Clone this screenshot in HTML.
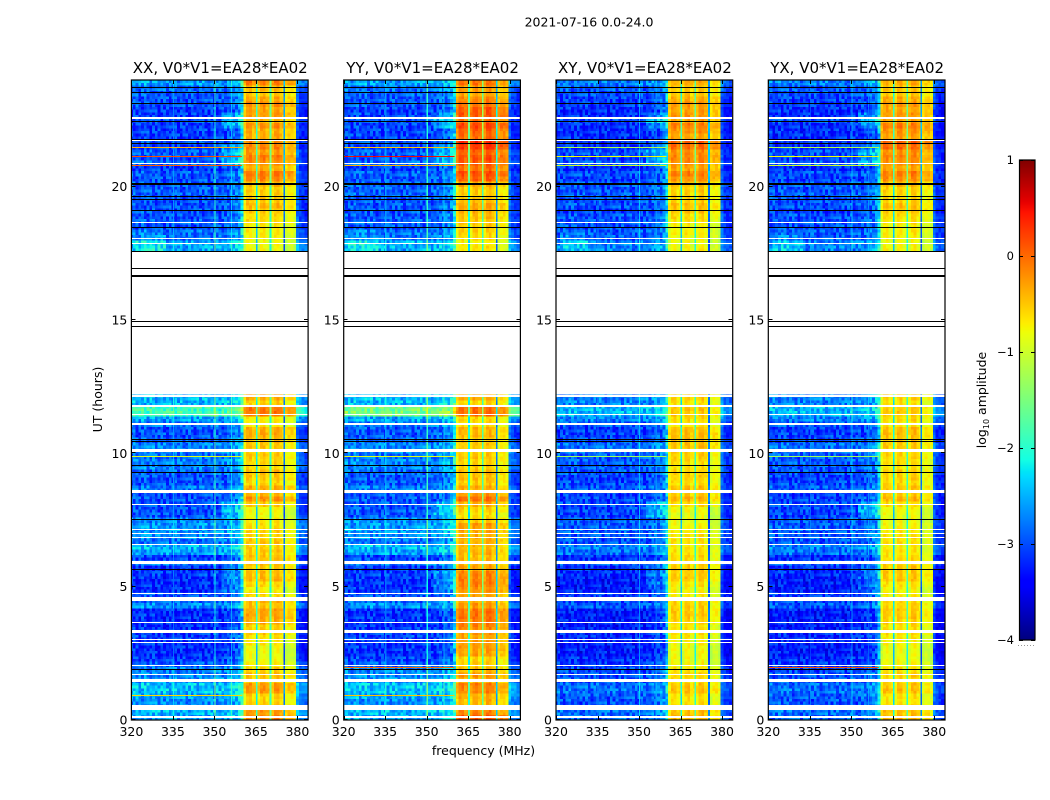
<!DOCTYPE html>
<html lang="en">
<head>
<meta charset="utf-8">
<title>2021-07-16 0.0-24.0</title>
<style>
html,body{margin:0;padding:0;background:#fff;}
svg{display:block;font-family:"DejaVu Sans","Liberation Sans",sans-serif;fill:#000;}
</style>
</head>
<body>
<svg id="figure" xmlns="http://www.w3.org/2000/svg" width="1050" height="800" viewBox="0 0 1050 800">
<text x="589" y="26.5" text-anchor="middle" font-size="12.5">2021-07-16 0.0-24.0</text>
<text x="483.5" y="755" text-anchor="middle" font-size="12.5">frequency (MHz)</text>
<text transform="translate(102,399.5) rotate(-90)" text-anchor="middle" font-size="12.5">UT (hours)</text>
<text transform="translate(986,400) rotate(-90)" text-anchor="middle" font-size="12.5">log<tspan font-size="8" dy="3">10</tspan><tspan dy="-3"> amplitude</tspan></text>
</svg>
<script>
const panelTitles = ["XX, V0*V1=EA28*EA02","YY, V0*V1=EA28*EA02","XY, V0*V1=EA28*EA02","YX, V0*V1=EA28*EA02"];
const xTickLabels = [320,335,350,365,380];
const yTickLabels = [0,5,10,15,20];
const colorbarTickLabels = [1,0,-1,-2,-3,-4];

// Log10 amplitude per 0.2 h row (row 0 = 0.0 h). null = no data.
const bgCo = [-2.6,-2.5,-2.7,-2.7,-2.6,-2.45,-2.45,-2.65,-2.75,-2.75,-2.95,-3.1,-3.2,-3.2,-3.2,-3.1,-3.1,-3.2,-3.2,-3.2,-3.2,-2.7,-2.9,-3.0,-3.2,-3.2,-3.2,-3.1,-3.2,-2.8,-3.1,-2.6,-2.5,-2.85,-2.7,-2.65,-2.65,-2.7,-3.0,-3.0,-3.0,-3.0,-3.0,-2.8,-3.0,-3.0,-2.9,-2.75,-2.75,-2.85,-2.75,-2.75,-2.9,-3.0,-3.0,-2.8,-2.6,-1.85,-1.9,-2.5,-2.5,
null,null,null,null,null,null,null,null,null,null,null,null,null,null,null,null,null,null,null,null,null,null,null,null,null,null,null,
-2.55,-2.55,-2.85,-2.85,-3.0,-2.95,-3.0,-3.0,-3.0,-3.0,-2.95,-2.95,-2.95,-3.0,-2.95,-3.1,-2.9,-3.0,-2.95,-3.1,-3.0,-3.1,-3.1,-3.1,-3.0,-3.1,-3.1,-3.0,-3.0,-2.95,-2.85,-2.6];
const bgCross = [-2.9,-2.85,-3.0,-3.0,-2.95,-2.85,-2.85,-3.0,-3.0,-3.05,-3.15,-3.2,-3.3,-3.3,-3.3,-3.2,-3.2,-3.3,-3.3,-3.3,-3.3,-2.95,-3.05,-3.1,-3.3,-3.3,-3.3,-3.2,-3.2,-2.95,-3.2,-2.85,-2.75,-3.0,-2.95,-2.95,-2.95,-2.95,-3.1,-3.05,-3.05,-3.05,-3.1,-2.95,-3.05,-3.1,-3.0,-2.95,-2.95,-2.95,-2.85,-2.85,-3.0,-3.1,-3.1,-2.95,-2.75,-2.5,-2.5,-2.75,-2.75,
null,null,null,null,null,null,null,null,null,null,null,null,null,null,null,null,null,null,null,null,null,null,null,null,null,null,null,
-2.75,-2.75,-2.95,-2.95,-3.0,-3.0,-3.0,-3.1,-3.0,-3.0,-2.95,-3.0,-2.95,-3.1,-3.0,-3.2,-2.95,-3.1,-3.0,-3.2,-3.1,-3.2,-3.2,-3.2,-3.0,-3.2,-3.2,-3.1,-3.1,-3.0,-2.95,-2.75];
const bgBoostYY = {57:0.3,58:0.3};
const bgOffsets = [0,0.03,0,0];

const bandXX = [-0.2,-0.3,-0.5,-0.6,-0.6,-0.3,-0.3,-0.55,-0.5,-0.6,-0.75,-0.85,-0.85,-0.85,-0.75,-0.7,-0.55,-0.6,-0.4,-0.35,-0.35,-0.5,-0.45,-0.65,-0.8,-0.65,-0.45,-0.5,-0.55,-0.5,-0.5,-0.55,-0.6,-0.55,-0.65,-0.6,-0.7,-0.75,-0.85,-0.8,-0.55,-0.25,-0.45,-0.4,-0.65,-0.55,-0.5,-0.65,-0.6,-0.55,-0.6,-0.55,-0.5,-0.4,-0.4,-0.75,-0.75,-0.1,-0.1,-0.6,-0.4,
null,null,null,null,null,null,null,null,null,null,null,null,null,null,null,null,null,null,null,null,null,null,null,null,null,null,null,
-0.85,-0.85,-0.8,-0.75,-0.75,-0.65,-0.65,-0.55,-0.45,-0.55,-0.6,-0.6,-0.5,-0.2,-0.1,-0.4,-0.25,-0.15,-0.3,-0.2,-0.25,-0.4,-0.4,-0.25,-0.45,-0.3,-0.35,-0.25,-0.4,-0.55,-0.5,-0.15];
const bandYY = [0.05,-0.2,-0.45,-0.45,-0.4,-0.2,-0.15,-0.4,-0.3,-0.5,-0.6,-0.6,-0.35,-0.3,-0.3,-0.35,-0.3,-0.2,-0.15,-0.1,-0.1,-0.3,-0.4,-0.35,-0.25,-0.15,-0.15,-0.2,-0.37,-0.42,-0.47,-0.42,-0.47,-0.42,-0.42,-0.37,-0.32,-0.57,-0.7,-0.6,-0.4,-0.05,-0.3,-0.4,-0.55,-0.5,-0.5,-0.6,-0.6,-0.55,-0.55,-0.55,-0.55,-0.45,-0.45,-0.65,-0.65,-0.05,-0.05,-0.6,-0.4,
null,null,null,null,null,null,null,null,null,null,null,null,null,null,null,null,null,null,null,null,null,null,null,null,null,null,null,
-0.7,-0.75,-0.65,-0.6,-0.6,-0.55,-0.5,-0.4,-0.35,-0.5,-0.55,-0.55,-0.4,0.0,0.1,-0.1,0.05,0.1,0.0,0.25,0.3,-0.05,0.0,0.15,-0.1,0.05,0.05,-0.1,-0.2,-0.35,-0.3,-0.1];
const bandXY = [-0.45,-0.5,-0.6,-0.7,-0.7,-0.5,-0.55,-0.65,-0.6,-0.7,-0.8,-0.85,-0.85,-0.85,-0.8,-0.75,-0.65,-0.7,-0.6,-0.55,-0.55,-0.6,-0.6,-0.75,-0.8,-0.7,-0.55,-0.55,-0.55,-0.6,-0.65,-0.7,-0.75,-0.7,-0.7,-0.75,-0.8,-0.85,-0.9,-0.85,-0.65,-0.45,-0.55,-0.5,-0.65,-0.6,-0.6,-0.7,-0.65,-0.6,-0.6,-0.5,-0.5,-0.45,-0.5,-0.7,-0.65,-0.55,-0.55,-0.7,-0.6,
null,null,null,null,null,null,null,null,null,null,null,null,null,null,null,null,null,null,null,null,null,null,null,null,null,null,null,
-0.8,-0.85,-0.8,-0.75,-0.8,-0.7,-0.65,-0.55,-0.5,-0.6,-0.6,-0.6,-0.5,-0.25,-0.15,-0.35,-0.25,-0.2,-0.25,-0.05,0.0,-0.35,-0.25,-0.15,-0.35,-0.3,-0.35,-0.3,-0.4,-0.55,-0.55,-0.4];
const bandYX = [-0.45,-0.5,-0.6,-0.7,-0.7,-0.5,-0.55,-0.65,-0.6,-0.7,-0.8,-0.85,-0.85,-0.85,-0.8,-0.75,-0.65,-0.7,-0.6,-0.55,-0.55,-0.6,-0.65,-0.75,-0.8,-0.7,-0.55,-0.55,-0.55,-0.6,-0.65,-0.7,-0.75,-0.7,-0.7,-0.75,-0.8,-0.85,-0.85,-0.8,-0.65,-0.45,-0.55,-0.55,-0.65,-0.6,-0.6,-0.7,-0.65,-0.6,-0.6,-0.55,-0.55,-0.5,-0.5,-0.7,-0.65,-0.55,-0.55,-0.7,-0.6,
null,null,null,null,null,null,null,null,null,null,null,null,null,null,null,null,null,null,null,null,null,null,null,null,null,null,null,
-0.8,-0.85,-0.8,-0.75,-0.8,-0.7,-0.65,-0.55,-0.5,-0.6,-0.65,-0.6,-0.5,-0.25,-0.15,-0.35,-0.25,-0.2,-0.25,-0.05,0.0,-0.35,-0.25,-0.15,-0.35,-0.3,-0.35,-0.3,-0.4,-0.55,-0.55,-0.4];

// Channel profile: 320..360 MHz offsets relative to the row background.
const chanOffset = [0.02,0.05,0.0,-0.02,0.04,0.05,0.02,0.0,0.03,-0.02,0.0,-0.02,-0.03,0.0,-0.02,0.02,0.0,-0.03,0.0,-0.02,-0.02,0.0,-0.03,0.0,-0.02,0.02,0.0,0.02,-0.02,0.0,0.02,0.02,0.0,0.03,0.03,0.1,0.12,0.15,0.2,0.3,0.7];
// Passband profile: 361..379 MHz offsets relative to the row band level.
const bandShape = [-0.2,0.06,0.08,-0.08,-0.08,-0.15,0.08,0.1,-0.08,-0.08,-0.12,0.1,0.12,-0.05,-0.12,-0.3,-0.16,-0.16,-0.28];
// Narrow passband notches.
const notchFreqs = [365,370,375];
const notchOffset = [-1.6,-1.3,-2.2];
// Edge channels at 380..383 MHz, relative to row background.
const edgeOffset = [0.15,-0.1,-0.15,-0.2];
const speckle = [0.12,-0.18,0.05,0.2,-0.1,-0.22,0.16,0.02,-0.06,0.24,-0.15,0.08,-0.2,0.1,-0.03,0.18,-0.12,0.04,0.22,-0.24,0.07,-0.09,0.14,-0.17,0.01,-0.14,0.19,-0.05,0.09,-0.21,0.13,-0.01,0.23,-0.16,0.06,-0.11,0.17];

// Narrow interference channels: frequency, boost over row background.
const rfiFreqs = [335,350,356];
const rfiChanBoost = [0.35,1.0,0.6];
const rfiChanScale = [1,1,0.6,0.6];

// Bright wide-band patch at the low end of the band, near 18 h.
const glowRows = [88,89,90,91];
const glowBoost = [0.35,0.35,0.2,0.1];
// Rows with a brighter shoulder just below the passband.
const shoulderRows = [24,25,26,27,28,38,39,40,104,105,106,107,111,112,113];
const shoulderBoost = [0.25,0.3,0.3,0.3,0.25,0.4,0.45,0.4,0.3,0.35,0.35,0.3,0.4,0.45,0.35];

// Flagged rows (hours) and RFI rows.
const whiteFlagStart = [0.08,0.36,1.42,1.69,2.03,2.88,2.99,3.25,3.63,4.47,4.73,5.84,6.56,6.83,6.98,7.12,8.06,8.53,10.05,11.08,11.43,11.72,12.1,17.85,18.03,18.63,20.85,21.72,22.53];
const whiteFlagEnd = [0.14,0.55,1.52,1.74,2.08,2.93,3.04,3.38,3.68,4.6,4.78,5.97,6.61,6.88,7.03,7.17,8.11,8.61,10.15,11.13,11.48,11.8,12.18,17.9,18.08,18.68,20.9,21.78,22.6];
const blackLines = [1.9,5.68,7.55,9.3,9.55,10.48,10.52,17.6,18.47,19.13,19.55,19.65,20.1,20.14,21.65,21.8,22.45,23.15,23.55,23.75,16.95,16.7,16.65,14.95,14.78];
const rfiHours = [2.0,0.95,9.9,11.1,20.8,21.15,21.5];
const rfiXX = [null,-0.6,-0.9,-0.6,0.05,0.15,-0.4];
const rfiYY = [0.0,-0.5,-0.9,-0.6,-0.4,0.5,-0.5];
const rfiXY = [null,null,-1.3,-1.2,-1.0,-0.8,-1.2];
const rfiYX = [0.1,null,-1.3,-1.2,-1.0,-0.8,-1.2];

const panelLefts = [131.4,343.7,556,768.3];
const panelWidth = 176.7;
const bands = [bandXX,bandYY,bandXY,bandYX];
const backgrounds = [bgCo,bgCo,bgCross,bgCross];
const rfiLevels = [rfiXX,rfiYY,rfiXY,rfiYX];
const NS = 'http://www.w3.org/2000/svg';
const figure = document.getElementById('figure');

function jetChannel(t, pts){
  for(let i=1;i<pts.length;i++){
    if(t<=pts[i][0]){
      const a=pts[i-1], b=pts[i];
      return a[1]+(b[1]-a[1])*(t-a[0])/(b[0]-a[0]);
    }
  }
  return pts[pts.length-1][1];
}
function jet(v){
  const t=Math.max(0,Math.min(1,(v+4)/5));
  const r=jetChannel(t,[[0,0],[0.35,0],[0.66,1],[0.89,1],[1,0.5]]);
  const g=jetChannel(t,[[0,0],[0.125,0],[0.375,1],[0.64,1],[0.91,0],[1,0]]);
  const b=jetChannel(t,[[0,0.5],[0.11,1],[0.34,1],[0.65,0],[1,0]]);
  return 'rgb('+Math.round(r*255)+','+Math.round(g*255)+','+Math.round(b*255)+')';
}
function xScale(left,f){ return left+(f-320)*2.7667; }
function yScale(h){ return 720-h*(640/24); }

function cellLevel(p,row,sub,chan){
  const base=backgrounds[p][row];
  const band=bands[p][row];
  if(base===null||base===undefined) return null;
  const s=speckle[(chan*3+row*7+sub*11+p*5)%speckle.length];
  let boost=bgOffsets[p];
  if(p===1&&bgBoostYY[row]) boost+=bgBoostYY[row];
  const gi=glowRows.indexOf(row);
  if(gi>=0&&chan>=322&&chan<=332) boost+=glowBoost[gi];
  const si=shoulderRows.indexOf(row);
  if(si>=0&&chan>=353&&chan<=360) boost+=shoulderBoost[si];
  if(chan<=360) return base+boost+chanOffset[chan-320]+s*1.5;
  if(chan<=379) return band+bandShape[chan-361]+s*0.45;
  return base+boost+edgeOffset[chan-380]+s*0.7;
}

function addRect(parent,x,y,w,h,fill){
  const r=document.createElementNS(NS,'rect');
  r.setAttribute('x',x);
  r.setAttribute('y',y);
  r.setAttribute('width',w);
  r.setAttribute('height',h);
  r.setAttribute('fill',fill);
  r.setAttribute('shape-rendering','crispEdges');
  parent.appendChild(r);
  return r;
}
function addLine(parent,x1,y1,x2,y2,color){
  const l=document.createElementNS(NS,'line');
  l.setAttribute('x1',x1);
  l.setAttribute('y1',y1);
  l.setAttribute('x2',x2);
  l.setAttribute('y2',y2);
  l.setAttribute('stroke',color);
  l.setAttribute('stroke-width',1);
  l.setAttribute('shape-rendering','crispEdges');
  parent.appendChild(l);
  return l;
}
function addText(parent,x,y,str,size,anchor){
  const t=document.createElementNS(NS,'text');
  t.setAttribute('x',x);
  t.setAttribute('y',y);
  t.setAttribute('font-size',size);
  t.setAttribute('text-anchor',anchor);
  t.textContent=str;
  parent.appendChild(t);
  return t;
}

panelTitles.forEach(function(title,p){
  const left=panelLefts[p];
  const g=document.createElementNS(NS,'g');
  
  
  figure.appendChild(g);

  const clip=document.createElementNS(NS,'clipPath');
  clip.setAttribute('id','clip'+p);
  const clipRect=document.createElementNS(NS,'rect');
  clipRect.setAttribute('x',left);
  clipRect.setAttribute('y',80);
  clipRect.setAttribute('width',panelWidth);
  clipRect.setAttribute('height',640);
  clip.appendChild(clipRect);
  g.appendChild(clip);

  const cells=document.createElementNS(NS,'g');
  cells.setAttribute('clip-path','url(#clip'+p+')');
  
  
  g.appendChild(cells);

  for(let row=0;row<120;row++){
    if(backgrounds[p][row]===null) continue;
    for(let sub=0;sub<2;sub++){
      const y1=yScale(row*0.2+sub*0.1);
      const y0=yScale(row*0.2+(sub+1)*0.1);
      for(let chan=320;chan<=383;chan++){
        const v=cellLevel(p,row,sub,chan);
        if(v===null) continue;
        const x0=xScale(left,chan-0.5);
        const x1=xScale(left,chan+0.5);
        const c=addRect(cells,x0.toFixed(2),y0.toFixed(2),(x1-x0+0.4).toFixed(2),(y1-y0+0.4).toFixed(2),jet(v));
        
        
      }
      const rowBase=backgrounds[p][row]+bgOffsets[p];
      rfiFreqs.forEach(function(f,i){
        const r=addRect(cells,xScale(left,f).toFixed(2),y0.toFixed(2),1.2,(y1-y0+0.4).toFixed(2),jet(rowBase+rfiChanBoost[i]*rfiChanScale[p]));
        
        
      });
      notchFreqs.forEach(function(f,i){
        const r=addRect(cells,xScale(left,f).toFixed(2),y0.toFixed(2),1.6,(y1-y0+0.4).toFixed(2),jet(bands[p][row]+notchOffset[i]));
        
        
      });
    }
  }
  rfiHours.forEach(function(h,i){
    const lev=rfiLevels[p][i];
    if(lev===null) return;
    const r=addRect(cells,left,Math.round(yScale(h)),xScale(left,360)-left,1,jet(lev));
    
    
  });
  whiteFlagStart.forEach(function(h,i){
    const y0=Math.round(yScale(whiteFlagEnd[i]));
    const y1=Math.round(yScale(h));
    const r=addRect(cells,left,y0,panelWidth,Math.max(1,y1-y0),'#ffffff');
    
    
  });
  blackLines.forEach(function(h){
    const r=addRect(cells,left,Math.round(yScale(h)),panelWidth,1,'#000000');
    
    
  });

  const frame=document.createElementNS(NS,'rect');
  frame.setAttribute('x',left);
  frame.setAttribute('y',80);
  frame.setAttribute('width',panelWidth);
  frame.setAttribute('height',640);
  frame.setAttribute('fill','none');
  frame.setAttribute('stroke','#000');
  frame.setAttribute('stroke-width',1.2);
  
  
  g.appendChild(frame);

  const titleEl=addText(g,left+panelWidth/2+0.5,73,title,15,'middle');
  
  

  xTickLabels.forEach(function(v){
    const x=Math.round(xScale(left,v))+0.5;
    const t1=addLine(g,x,720,x,716,'#000');
    
    
    const t2=addLine(g,x,80,x,84,'#000');
    
    
    const lab=addText(g,xScale(left,v),736,String(v),12.5,'middle');
    
    
  });
  yTickLabels.forEach(function(v){
    const y=Math.round(yScale(v))-0.5;
    const t1=addLine(g,left,y,left+4,y,'#000');
    
    
    const t2=addLine(g,left+panelWidth,y,left+panelWidth-4,y,'#000');
    
    
    const lab=addText(g,left-4,yScale(v)+4.5,String(v),12.5,'end');
    
    
  });
});

// Colorbar
const cbar=document.createElementNS(NS,'g');


figure.appendChild(cbar);
function cbY(v){ return 640-(v+4)*96; }
for(let i=0;i<240;i++){
  const v=-4+i*(5/240);
  const seg=addRect(cbar,1019,cbY(v)-2,16,2.5,jet(v));
  
  
}
const cbFrame=document.createElementNS(NS,'rect');
cbFrame.setAttribute('x',1019.5);
cbFrame.setAttribute('y',160);
cbFrame.setAttribute('width',15.5);
cbFrame.setAttribute('height',480);
cbFrame.setAttribute('fill','none');
cbFrame.setAttribute('stroke','#000');
cbFrame.setAttribute('stroke-width',1.2);


cbar.appendChild(cbFrame);
colorbarTickLabels.forEach(function(v){
  const y=Math.round(cbY(v))+0.5;
  const t1=addLine(cbar,1019,y,1023,y,'#000');
  
  
  const t2=addLine(cbar,1035,y,1031,y,'#000');
  
  
  const lab=addText(cbar,1014,cbY(v)+4,(v<0?'\u2212':'')+Math.abs(v),11.5,'end');
  
  
});
const cbDots=addLine(cbar,1018,645.5,1035,645.5,'#999');
cbDots.setAttribute('stroke-dasharray','1 2');


</script>
</body>
</html>
